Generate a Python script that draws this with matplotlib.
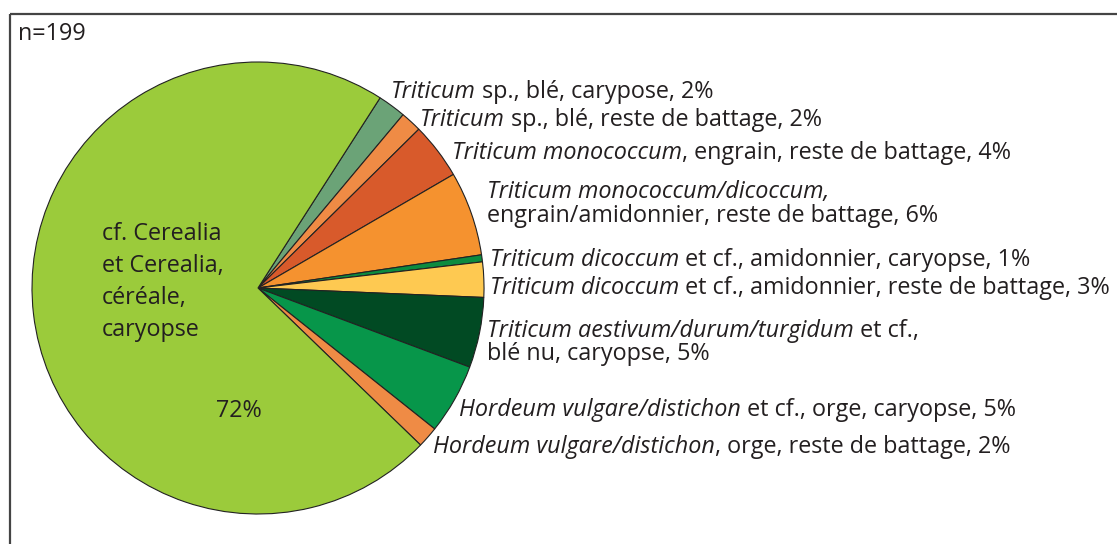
import matplotlib
matplotlib.use("Agg")
import matplotlib.pyplot as plt

plt.rcParams['font.family'] = ['Open Sans', 'DejaVu Sans']

# ---- data ----
counts_small = [4, 3, 8, 12, 1, 5, 10, 10, 3]
count_large = 143
n_total = 199
colors_small = ['#6BA377', '#EF8B45', '#D85A2B', '#F5922F', '#0C8B3F',
                '#FEC951', '#014A23', '#07964A', '#EF8B45']
color_large = '#9BCB3B'

# label parts: (text, italic?)
labels = [
    [[("Triticum", True), (" sp., blé, carypose, 2%", False)]],
    [[("Triticum", True), (" sp., blé, reste de battage, 2%", False)]],
    [[("Triticum monococcum", True), (", engrain, reste de battage, 4%", False)]],
    [[("Triticum monococcum/dicoccum,", True)],
     [("engrain/amidonnier, reste de battage, 6%", False)]],
    [[("Triticum dicoccum", True), (" et cf., amidonnier, caryopse, 1%", False)]],
    [[("Triticum dicoccum", True), (" et cf., amidonnier, reste de battage, 3%", False)]],
    [[("Triticum aestivum/durum/turgidum", True), (" et cf.,", False)],
     [("blé nu, caryopse, 5%", False)]],
    [[("Hordeum vulgare/distichon", True), (" et cf., orge, caryopse, 5%", False)]],
    [[("Hordeum vulgare/distichon", True), (", orge, reste de battage, 2%", False)]],
]
large_label = "cf. Cerealia\net Cerealia,\ncéréale,\ncaryopse"
large_pct = "72%"

# ---- layout (pixel coordinates, y from top) ----
W, H = 1117, 544
label_x = [391, 420, 452, 487, 490, 490, 487, 459, 433]
label_base = [[98], [126], [159], [198, 222], [266], [294], [337, 360], [416], [453]]
FS = 16.8

fig = plt.figure(figsize=(W / 100, H / 100), dpi=100)
ax = fig.add_axes([0, 0, 1, 1])

values = counts_small + [count_large]
cols = colors_small + [color_large]
cx, cy, r = 258, 288, 226
ax.pie(values, colors=cols, startangle=57.3, counterclock=False,
       center=(cx, H - cy), radius=r,
       wedgeprops=dict(edgecolor='#222222', linewidth=0.8))
ax.set_xlim(0, W)
ax.set_ylim(0, H)
ax.set_aspect('equal')
ax.axis('off')

# frame
ax.plot([10, W], [H - 14, H - 14], color='#444444', lw=1.6, solid_capstyle='butt')
ax.plot([10, 10], [H - 14, 0], color='#444444', lw=1.6, solid_capstyle='butt')

fig.canvas.draw()
renderer = fig.canvas.get_renderer()


def rich_line(x, y, parts):
    cur = x
    for txt, it in parts:
        t = ax.text(cur, H - y, txt, fontsize=FS, va='baseline', ha='left',
                    style='italic' if it else 'normal', color='#231F20')
        bb = t.get_window_extent(renderer=renderer)
        cur = cur + bb.width  # 1 data unit == 1 pixel
    return cur


for x, bases, lines in zip(label_x, label_base, labels):
    for b, parts in zip(bases, lines):
        rich_line(x, b, parts)

ax.text(18, H - 40, "n=" + str(n_total), fontsize=FS, va='baseline', ha='left', color='#231F20')

for i, line in enumerate(large_label.split("\n")):
    ax.text(102, H - (240 + 32 * i), line, fontsize=FS, va='baseline', ha='left', color='#231F20')
ax.text(216, H - 417, large_pct, fontsize=FS, va='baseline', ha='left', color='#231F20')

fig.savefig("out.png", dpi=100)
